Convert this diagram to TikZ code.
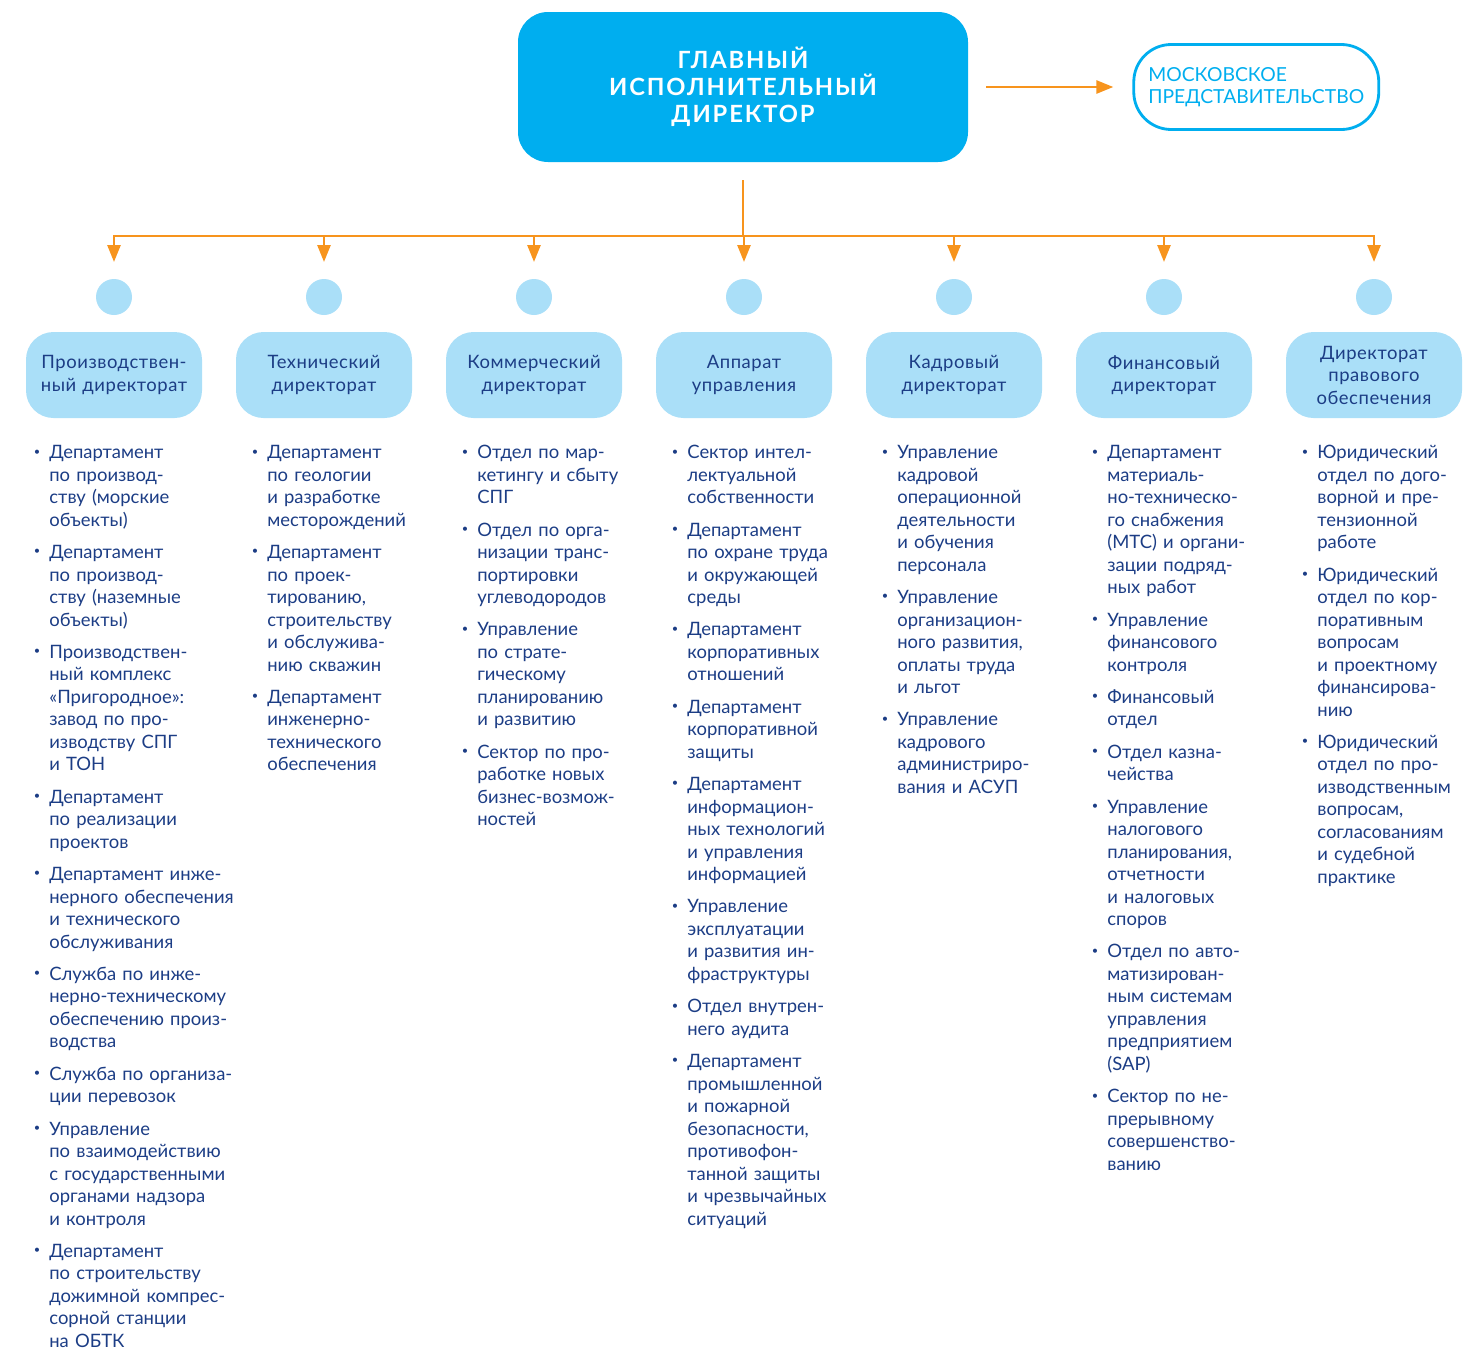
\documentclass[tikz,border=0pt]{standalone}
\usepackage{fontspec}
\setmainfont{Lato}
\newfontfamily\titlefont[LetterSpace=8]{Lato}
\newfontfamily\headfont[LetterSpace=3]{Lato}
\usepackage{enumitem}
\usepackage{tikz}
\usetikzlibrary{positioning, arrows.meta}

\definecolor{ceoblue}{HTML}{00AEEF}
\definecolor{linkorange}{HTML}{F7941D}
\definecolor{paleblue}{HTML}{AADFF8}
\definecolor{navy}{HTML}{1C3D85}

\setlist[itemize]{label={\raisebox{0.2em}{\scalebox{0.6}{\textbullet}}}, leftmargin=0.28cm, labelsep=0.18cm, topsep=0pt, partopsep=0pt, parsep=0pt, itemsep=5.6pt}

\begin{document}
\begin{tikzpicture}[
    ceo/.style={rectangle, fill=ceoblue, text=white, rounded corners=0.6cm, minimum width=9cm, minimum height=3cm, align=center, font=\titlefont\bfseries\fontsize{13.5}{15.4}\selectfont},
    mskbox/.style={rectangle, draw=ceoblue, line width=1.6pt, text=ceoblue, rounded corners=0.75cm, minimum width=4.9cm, minimum height=1.7cm, align=left, font=\fontsize{11}{12.6}\selectfont},
    dirbox/.style={rectangle, fill=paleblue, text=navy, rounded corners=0.55cm, text width=3.2cm, inner xsep=0.16cm, outer sep=0pt, minimum height=1.72cm, align=center, font=\headfont\fontsize{10.5}{12.8}\selectfont},
    dot/.style={circle, fill=paleblue, minimum size=0.72cm, inner sep=0pt, outer sep=0pt},
    deptlist/.style={text width=4.4cm, align=left, inner sep=0pt, text=navy, font=\fontsize{10.5}{12.8}\selectfont},
    stem/.style={draw=linkorange, line width=1.5pt, shorten <=0.36cm},
    arrow/.style={draw=linkorange, line width=1.5pt, -{Triangle[length=0.34cm,width=0.26cm]}, shorten >=0.34cm}
]
\useasboundingbox (0,0) rectangle (29.5,-27.04);

% Head
\node (ceo) [ceo] at (14.86,-1.74) {ГЛАВНЫЙ\\ИСПОЛНИТЕЛЬНЫЙ\\ДИРЕКТОР};
\node (msk) [mskbox, right=3.28cm of ceo] {МОСКОВСКОЕ\\ПРЕДСТАВИТЕЛЬСТВО};
\draw [arrow, shorten <=0.36cm, shorten >=0.38cm] (ceo) -- (msk);

% Directorates
\node (prod) [dirbox] at (2.28,-7.5) {Производствен-\\ный директорат};
\node (tech) [dirbox, right=0.68cm of prod] {Технический\\директорат};
\node (comm) [dirbox, right=0.68cm of tech] {Коммерческий\\директорат};
\node (appr) [dirbox, right=0.68cm of comm] {Аппарат\\управления};
\node (staff) [dirbox, right=0.68cm of appr] {Кадровый\\директорат};
\node (fin) [dirbox, right=0.68cm of staff] {Финансовый\\директорат};
\node (law) [dirbox, right=0.68cm of fin] {Директорат\\правового\\обеспечения};

% Dots
\node (dot1) [dot, above=0.34cm of prod] {};
\node (dot2) [dot, above=0.34cm of tech] {};
\node (dot3) [dot, above=0.34cm of comm] {};
\node (dot4) [dot, above=0.34cm of appr] {};
\node (dot5) [dot, above=0.34cm of staff] {};
\node (dot6) [dot, above=0.34cm of fin] {};
\node (dot7) [dot, above=0.34cm of law] {};

% Connectors
\coordinate (bus) at (14.86,-4.72);
\draw [stem] (ceo) -- (bus);
\draw [arrow] (bus) -| (dot1);
\draw [arrow] (bus) -| (dot2);
\draw [arrow] (bus) -| (dot3);
\draw [arrow] (bus) -| (dot4);
\draw [arrow] (bus) -| (dot5);
\draw [arrow] (bus) -| (dot6);
\draw [arrow] (bus) -| (dot7);

% Departments
\node (prodlist) [deptlist, below right=0.36cm and 0.18cm of prod.south west] {%
\begin{itemize}
\item Департамент\\по производ-\\ству (морские\\объекты)
\item Департамент\\по производ-\\ству (наземные\\объекты)
\item Производствен-\\ный комплекс\\«Пригородное»:\\завод по про-\\изводству СПГ\\и ТОН
\item Департамент\\по реализации\\проектов
\item Департамент инже-\\нерного обеспечения\\и технического\\обслуживания
\item Служба по инже-\\нерно-техническому\\обеспечению произ-\\водства
\item Служба по организа-\\ции перевозок
\item Управление\\по взаимодействию\\с государственными\\органами надзора\\и контроля
\item Департамент\\по строительству\\дожимной компрес-\\сорной станции\\на ОБТК
\end{itemize}};

\node (techlist) [deptlist, below right=0.36cm and 0.34cm of tech.south west] {%
\begin{itemize}
\item Департамент\\по геологии\\и разработке\\месторождений
\item Департамент\\по проек-\\тированию,\\строительству\\и обслужива-\\нию скважин
\item Департамент\\инженерно-\\технического\\обеспечения
\end{itemize}};

\node (commlist) [deptlist, below right=0.36cm and 0.34cm of comm.south west] {%
\begin{itemize}
\item Отдел по мар-\\кетингу и сбыту\\СПГ
\item Отдел по орга-\\низации транс-\\портировки\\углеводородов
\item Управление\\по страте-\\гическому\\планированию\\и развитию
\item Сектор по про-\\работке новых\\бизнес-возмож-\\ностей
\end{itemize}};

\node (apprlist) [deptlist, below right=0.36cm and 0.34cm of appr.south west] {%
\begin{itemize}
\item Сектор интел-\\лектуальной\\собственности
\item Департамент\\по охране труда\\и окружающей\\среды
\item Департамент\\корпоративных\\отношений
\item Департамент\\корпоративной\\защиты
\item Департамент\\информацион-\\ных технологий\\и управления\\информацией
\item Управление\\эксплуатации\\и развития ин-\\фраструктуры
\item Отдел внутрен-\\него аудита
\item Департамент\\промышленной\\и пожарной\\безопасности,\\противофон-\\танной защиты\\и чрезвычайных\\ситуаций
\end{itemize}};

\node (stafflist) [deptlist, below right=0.36cm and 0.34cm of staff.south west] {%
\begin{itemize}
\item Управление\\кадровой\\операционной\\деятельности\\и обучения\\персонала
\item Управление\\организацион-\\ного развития,\\оплаты труда\\и льгот
\item Управление\\кадрового\\администриро-\\вания и АСУП
\end{itemize}};

\node (finlist) [deptlist, below right=0.36cm and 0.34cm of fin.south west] {%
\begin{itemize}
\item Департамент\\материаль-\\но-техническо-\\го снабжения\\(МТС) и органи-\\зации подряд-\\ных работ
\item Управление\\финансового\\контроля
\item Финансовый\\отдел
\item Отдел казна-\\чейства
\item Управление\\налогового\\планирования,\\отчетности\\и налоговых\\споров
\item Отдел по авто-\\матизирован-\\ным системам\\управления\\предприятием\\(SAP)
\item Сектор по не-\\прерывному\\совершенство-\\ванию
\end{itemize}};

\node (lawlist) [deptlist, below right=0.36cm and 0.34cm of law.south west] {%
\begin{itemize}
\item Юридический\\отдел по дого-\\ворной и пре-\\тензионной\\работе
\item Юридический\\отдел по кор-\\поративным\\вопросам\\и проектному\\финансирова-\\нию
\item Юридический\\отдел по про-\\изводственным\\вопросам,\\согласованиям\\и судебной\\практике
\end{itemize}};

\end{tikzpicture}
\end{document}
